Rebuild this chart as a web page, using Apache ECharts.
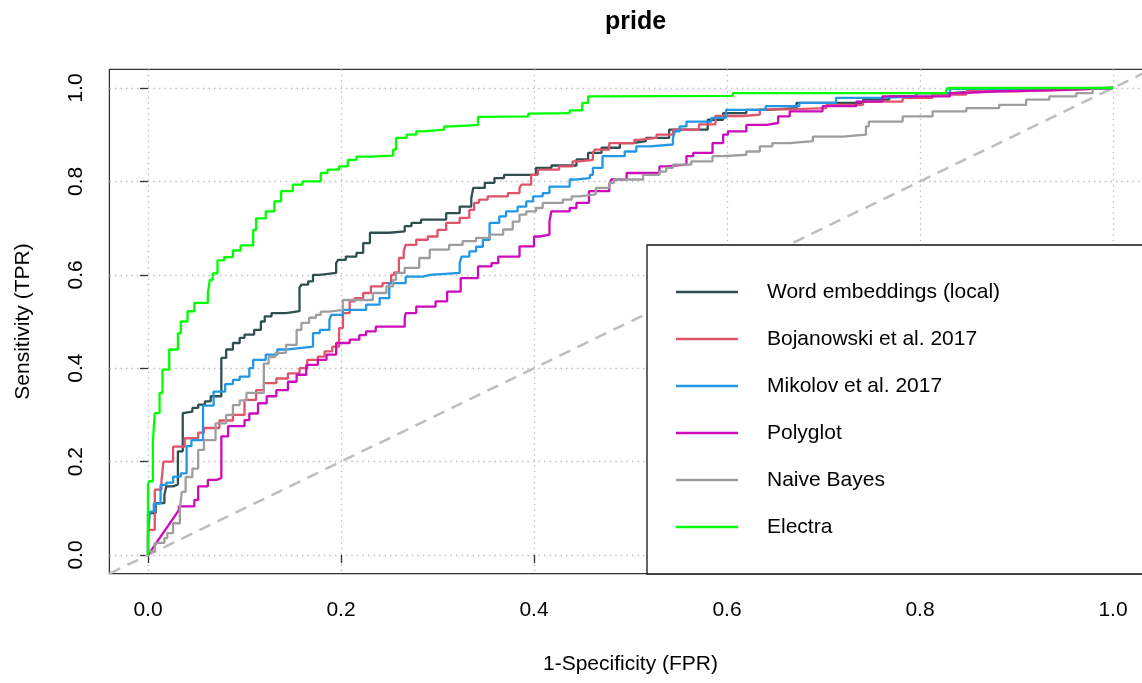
<!DOCTYPE html>
<html>
<head>
<meta charset="utf-8">
<title>pride</title>
<script src="https://cdn.jsdelivr.net/npm/echarts@6/dist/echarts.min.js"></script>
<style>
  html, body { margin: 0; padding: 0; background: #fff; }
  #chart { width: 1142px; height: 683px; }
</style>
</head>
<body>
<div id="chart"></div>
<script>
// Tick positions shared by both axes
const TICKS = [0, 0.2, 0.4, 0.6, 0.8, 1.0];

// ROC curves: [false positive rate, true positive rate] at each step corner
const wordEmbeddings = [[0,0],[0.008,0.09],[0.017,0.111],[0.019,0.129],[0.026,0.147],[0.031,0.151],[0.032,0.222],[0.036,0.222],[0.038,0.304],[0.046,0.307],[0.052,0.315],[0.059,0.322],[0.065,0.329],[0.076,0.34],[0.081,0.422],[0.088,0.44],[0.095,0.454],[0.1,0.465],[0.11,0.472],[0.117,0.482],[0.121,0.5],[0.128,0.511],[0.143,0.518],[0.157,0.522],[0.159,0.572],[0.166,0.579],[0.171,0.586],[0.178,0.6],[0.195,0.604],[0.197,0.625],[0.205,0.632],[0.216,0.639],[0.223,0.647],[0.23,0.668],[0.25,0.69],[0.266,0.693],[0.273,0.704],[0.283,0.711],[0.309,0.718],[0.323,0.732],[0.335,0.746],[0.337,0.764],[0.349,0.786],[0.359,0.797],[0.369,0.807],[0.402,0.814],[0.418,0.829],[0.444,0.834],[0.456,0.847],[0.47,0.861],[0.489,0.872],[0.502,0.882],[0.516,0.886],[0.54,0.893],[0.58,0.911],[0.596,0.932],[0.62,0.946],[0.641,0.953],[0.672,0.957],[0.741,0.968],[0.768,0.975],[0.796,0.982],[0.831,0.989],[0.865,0.993],[0.952,0.998],[1,1]];

const bojanowski = [[0,0],[0.007,0.054],[0.014,0.14],[0.016,0.16],[0.026,0.2],[0.038,0.232],[0.052,0.25],[0.058,0.262],[0.074,0.272],[0.088,0.288],[0.1,0.3],[0.112,0.332],[0.12,0.353],[0.133,0.368],[0.145,0.378],[0.157,0.389],[0.165,0.4],[0.176,0.418],[0.183,0.425],[0.191,0.436],[0.198,0.446],[0.202,0.486],[0.209,0.518],[0.214,0.543],[0.223,0.55],[0.231,0.561],[0.243,0.575],[0.252,0.582],[0.255,0.6],[0.26,0.605],[0.265,0.636],[0.267,0.65],[0.278,0.664],[0.29,0.675],[0.3,0.682],[0.309,0.696],[0.323,0.711],[0.333,0.722],[0.338,0.739],[0.343,0.754],[0.352,0.761],[0.373,0.768],[0.385,0.775],[0.387,0.786],[0.397,0.793],[0.404,0.814],[0.426,0.825],[0.44,0.832],[0.447,0.843],[0.461,0.846],[0.463,0.861],[0.478,0.868],[0.504,0.882],[0.508,0.889],[0.527,0.893],[0.544,0.9],[0.571,0.911],[0.588,0.922],[0.616,0.94],[0.634,0.943],[0.665,0.954],[0.703,0.957],[0.741,0.964],[0.782,0.971],[0.813,0.979],[0.848,0.986],[0.9,0.993],[0.951,0.996],[1,1]];

const mikolov = [[0,0],[0.002,0.039],[0.006,0.093],[0.013,0.11],[0.019,0.15],[0.026,0.155],[0.034,0.168],[0.04,0.175],[0.045,0.233],[0.057,0.246],[0.068,0.32],[0.08,0.35],[0.088,0.366],[0.095,0.375],[0.105,0.382],[0.109,0.4],[0.122,0.418],[0.134,0.429],[0.143,0.44],[0.157,0.443],[0.171,0.446],[0.178,0.475],[0.188,0.482],[0.19,0.504],[0.202,0.514],[0.226,0.525],[0.24,0.536],[0.25,0.55],[0.267,0.582],[0.285,0.596],[0.292,0.6],[0.323,0.604],[0.325,0.625],[0.333,0.639],[0.34,0.65],[0.347,0.66],[0.354,0.675],[0.364,0.711],[0.371,0.725],[0.383,0.736],[0.392,0.746],[0.399,0.757],[0.409,0.768],[0.416,0.775],[0.437,0.789],[0.442,0.804],[0.458,0.807],[0.461,0.814],[0.471,0.829],[0.494,0.854],[0.506,0.864],[0.52,0.875],[0.544,0.879],[0.546,0.893],[0.551,0.907],[0.558,0.918],[0.584,0.928],[0.599,0.936],[0.64,0.953],[0.675,0.961],[0.713,0.968],[0.761,0.979],[0.796,0.982],[0.831,0.989],[0.969,0.998],[1,1]];

// Polyglot opens with a run of tied scores, drawn as a straight segment
const polyglotTie = [[0,0],[0.032,0.096]];
const polyglot = [[0.032,0.096],[0.048,0.104],[0.052,0.118],[0.062,0.147],[0.071,0.161],[0.076,0.165],[0.083,0.254],[0.1,0.276],[0.105,0.289],[0.114,0.303],[0.123,0.325],[0.133,0.34],[0.145,0.353],[0.154,0.371],[0.164,0.386],[0.176,0.407],[0.185,0.418],[0.195,0.429],[0.209,0.454],[0.219,0.461],[0.226,0.471],[0.236,0.479],[0.247,0.489],[0.266,0.489],[0.267,0.507],[0.278,0.518],[0.298,0.532],[0.31,0.543],[0.324,0.564],[0.342,0.593],[0.356,0.618],[0.363,0.625],[0.385,0.639],[0.4,0.661],[0.406,0.682],[0.416,0.686],[0.418,0.714],[0.437,0.736],[0.444,0.743],[0.457,0.754],[0.478,0.779],[0.48,0.793],[0.496,0.804],[0.53,0.818],[0.537,0.832],[0.558,0.836],[0.565,0.854],[0.585,0.861],[0.596,0.882],[0.601,0.9],[0.62,0.907],[0.641,0.921],[0.653,0.925],[0.665,0.939],[0.699,0.95],[0.734,0.961],[0.761,0.971],[0.831,0.982],[0.844,0.989],[0.882,0.993],[0.951,0.996],[1,1]];

const naiveBayes = [[0,0],[0.007,0.008],[0.017,0.026],[0.02,0.036],[0.026,0.047],[0.033,0.068],[0.035,0.1],[0.039,0.135],[0.046,0.167],[0.052,0.185],[0.058,0.225],[0.07,0.246],[0.081,0.282],[0.088,0.3],[0.095,0.321],[0.102,0.331],[0.12,0.347],[0.125,0.41],[0.132,0.424],[0.143,0.433],[0.154,0.45],[0.159,0.482],[0.167,0.497],[0.174,0.508],[0.179,0.514],[0.188,0.521],[0.202,0.525],[0.233,0.546],[0.247,0.561],[0.254,0.575],[0.257,0.589],[0.266,0.604],[0.281,0.615],[0.292,0.636],[0.312,0.654],[0.326,0.664],[0.34,0.672],[0.354,0.679],[0.368,0.686],[0.378,0.697],[0.385,0.714],[0.392,0.729],[0.402,0.736],[0.409,0.743],[0.43,0.754],[0.439,0.761],[0.447,0.768],[0.464,0.772],[0.478,0.786],[0.483,0.797],[0.513,0.804],[0.53,0.814],[0.537,0.821],[0.544,0.829],[0.563,0.836],[0.585,0.843],[0.596,0.854],[0.62,0.857],[0.634,0.864],[0.647,0.875],[0.665,0.882],[0.689,0.886],[0.72,0.896],[0.744,0.9],[0.747,0.918],[0.782,0.928],[0.813,0.939],[0.848,0.95],[0.882,0.957],[0.91,0.964],[0.934,0.975],[0.962,0.982],[0.979,0.989],[1,1]];

const electra = [[0,0],[0.001,0.15],[0.005,0.158],[0.007,0.24],[0.012,0.304],[0.015,0.347],[0.022,0.397],[0.031,0.44],[0.034,0.475],[0.041,0.5],[0.048,0.522],[0.062,0.54],[0.064,0.56],[0.067,0.589],[0.072,0.603],[0.079,0.631],[0.088,0.638],[0.096,0.652],[0.109,0.663],[0.112,0.696],[0.122,0.721],[0.131,0.736],[0.138,0.757],[0.15,0.779],[0.16,0.793],[0.179,0.8],[0.186,0.818],[0.198,0.825],[0.207,0.832],[0.216,0.846],[0.23,0.853],[0.254,0.855],[0.257,0.868],[0.268,0.893],[0.278,0.9],[0.285,0.907],[0.307,0.911],[0.316,0.918],[0.342,0.921],[0.347,0.938],[0.394,0.939],[0.397,0.945],[0.437,0.946],[0.45,0.952],[0.456,0.968],[0.466,0.982],[0.606,0.983],[0.608,0.989],[0.827,0.989],[0.829,0.995],[1,1]];

// Chance line y = x across the full axis range
const chanceLine = [[-0.04,-0.04],[1.04,1.04]];

const SERIES_NAMES = ['Word embeddings (local)', 'Bojanowski et al. 2017', 'Mikolov et al. 2017', 'Polyglot', 'Naive Bayes', 'Electra'];
const COLORS = ['#2F4F4F', '#DF536B', '#2297E6', '#CD0BBC', '#9E9E9E', '#00FF00'];

const FONT = 'Liberation Sans, Arial, Helvetica, sans-serif';
const FONT_SIZE = 21;

function rocSeries(name, data, color, step) {
  return {
    name: name,
    type: 'line',
    data: data,
    step: step ? 'start' : false,
    symbol: 'none',
    silent: true,
    lineStyle: { color: color, width: 2.3 },
    itemStyle: { color: color },
    z: 3
  };
}

const chart = echarts.init(document.getElementById('chart'), null, { renderer: 'canvas' });

chart.setOption({
  animation: false,
  backgroundColor: '#fff',
  title: {
    text: 'pride',
    left: 630.5,
    top: 4.5,
    textAlign: 'center',
    textStyle: { fontFamily: FONT, fontSize: 25, fontWeight: 'bold', color: '#000' }
  },
  grid: {
    left: 109.4,
    top: 69.3,
    width: 1042.2,
    height: 504.4,
    show: true,
    borderColor: '#333',
    borderWidth: 1.3,
    backgroundColor: 'transparent',
    containLabel: false,
    outerBoundsMode: 'none'
  },
  xAxis: {
    type: 'value',
    min: -0.04,
    max: 1.04,
    axisLine: { show: false },
    axisTick: { show: true, length: 8, customValues: TICKS, lineStyle: { color: '#333', width: 1.3 } },
    axisLabel: {
      customValues: TICKS,
      formatter: v => v.toFixed(1),
      margin: 26,
      fontFamily: FONT, fontSize: FONT_SIZE, color: '#000'
    },
    splitLine: { show: true, lineStyle: { color: '#bdbdbd', width: 1.3, type: [1.5, 4] } },
    name: '1-Specificity (FPR)',
    nameLocation: 'middle',
    nameGap: 80,
    nameTextStyle: { fontFamily: FONT, fontSize: FONT_SIZE, color: '#000' }
  },
  yAxis: {
    type: 'value',
    min: -0.04,
    max: 1.04,
    axisLine: { show: false },
    axisTick: { show: true, length: 8, customValues: TICKS, lineStyle: { color: '#333', width: 1.3 } },
    axisLabel: {
      customValues: TICKS,
      formatter: v => v.toFixed(1),
      rotate: 90,
      margin: 23,
      fontFamily: FONT, fontSize: FONT_SIZE, color: '#000'
    },
    splitLine: { show: true, lineStyle: { color: '#bdbdbd', width: 1.3, type: [1.5, 4] } },
    name: 'Sensitivity (TPR)',
    nameLocation: 'middle',
    nameGap: 76,
    nameTextStyle: { fontFamily: FONT, fontSize: FONT_SIZE, color: '#000' }
  },
  legend: {
    data: SERIES_NAMES,
    orient: 'vertical',
    left: 647,
    top: 245,
    icon: 'rect',
    itemWidth: 62,
    itemHeight: 2.5,
    itemGap: 23,
    padding: [35, 170, 35, 29],
    backgroundColor: '#fff',
    borderColor: '#111',
    borderWidth: 1.3,
    borderRadius: 0,
    selectedMode: false,
    textStyle: { fontFamily: FONT, fontSize: FONT_SIZE, color: '#000', lineHeight: 24, padding: [0, 0, 0, 24] }
  },
  series: [
    {
      name: 'chance',
      type: 'line',
      data: chanceLine,
      symbol: 'none',
      silent: true,
      lineStyle: { color: '#BEBEBE', width: 2.5, type: [12, 8] },
      z: 2
    },
    rocSeries(SERIES_NAMES[0], wordEmbeddings, COLORS[0], true),
    rocSeries(SERIES_NAMES[1], bojanowski, COLORS[1], true),
    rocSeries(SERIES_NAMES[2], mikolov, COLORS[2], true),
    rocSeries(SERIES_NAMES[3], polyglot, COLORS[3], true),
    rocSeries(SERIES_NAMES[3], polyglotTie, COLORS[3], false),
    rocSeries(SERIES_NAMES[4], naiveBayes, COLORS[4], true),
    rocSeries(SERIES_NAMES[5], electra, COLORS[5], true)
  ]
});
</script>
</body>
</html>
